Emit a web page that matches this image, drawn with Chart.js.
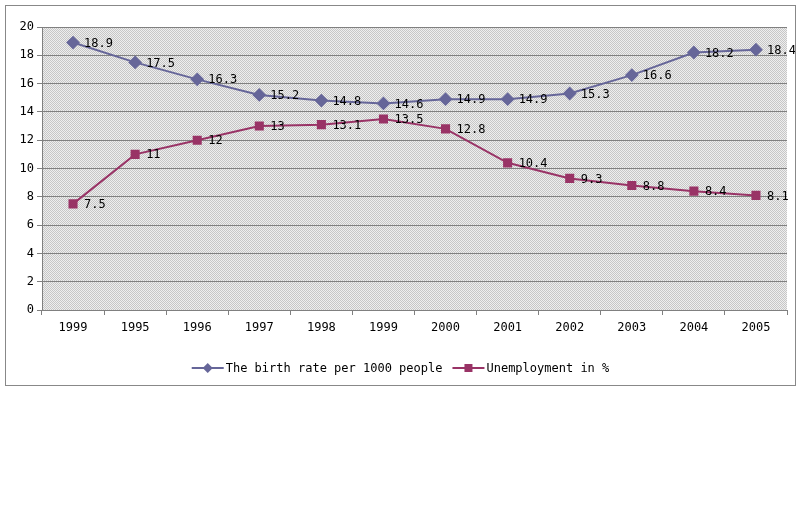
<!DOCTYPE html>
<html>
<head>
<meta charset="utf-8">
<script src="https://cdn.jsdelivr.net/npm/chart.js@4.4.1/dist/chart.umd.min.js"></script>
<style>
  html, body { margin:0; padding:0; background:#fff; }
  #box { position:absolute; left:5px; top:5px; width:789px; height:379px; border:1px solid #888; }
  #box canvas { display:block; }
</style>
</head>
<body>
<div id="box"><canvas id="c" width="789" height="379"></canvas></div>
<script>
const years = ['1999','1995','1996','1997','1998','1999','2000','2001','2002','2003','2004','2005']
const birthRate = [18.9, 17.5, 16.3, 15.2, 14.8, 14.6, 14.9, 14.9, 15.3, 16.6, 18.2, 18.4]
const unemployment = [7.5, 11, 12, 13, 13.1, 13.5, 12.8, 10.4, 9.3, 8.8, 8.4, 8.1]
const seriesNames = ['The birth rate per 1000 people', 'Unemployment in %']
const yTicks = [0, 2, 4, 6, 8, 10, 12, 14, 16, 18, 20]

const FONT = 'DejaVu Sans Mono'
const BLUE = '#666699'
const RED = '#993366'

// checker pattern like the old office plot area fill
function makePattern(ctx){
  const p = document.createElement('canvas')
  p.width = 2; p.height = 2
  const pc = p.getContext('2d')
  pc.fillStyle = '#eeeeee'; pc.fillRect(0,0,2,2)
  pc.fillStyle = '#c6c6c6'; pc.fillRect(0,0,1,1); pc.fillRect(1,1,1,1)
  return ctx.createPattern(p, 'repeat')
}

const areaBg = {
  id: 'areaBg',
  beforeDraw(chart){
    const {ctx, chartArea:a} = chart
    ctx.save()
    ctx.fillStyle = makePattern(ctx)
    ctx.fillRect(a.left, a.top, a.right-a.left, a.bottom-a.top)
    ctx.restore()
  }
}

const valueLabels = {
  id: 'valueLabels',
  afterDatasetsDraw(chart){
    const ctx = chart.ctx
    ctx.save()
    ctx.font = `12px "${FONT}"`
    ctx.fillStyle = '#000'
    ctx.textAlign = 'left'
    ctx.textBaseline = 'middle'
    chart.data.datasets.forEach((ds, i) => {
      chart.getDatasetMeta(i).data.forEach((pt, j) => {
        ctx.fillText(String(ds.data[j]), pt.x + 11, pt.y + 1)
      })
    })
    ctx.restore()
  }
}

// legend drawn by hand: line with marker in the middle, then text
const lineLegend = {
  id: 'lineLegend',
  afterDraw(chart){
    const ctx = chart.ctx
    ctx.save()
    ctx.font = `12px "${FONT}"`
    const seg = 32, gapText = 2, gapItem = 10
    const items = chart.data.datasets.map(ds => ({ds, w: ctx.measureText(ds.label).width}))
    const total = items.reduce((s, it) => s + seg + gapText + it.w, 0) + gapItem*(items.length-1)
    let x = chart.width/2 - total/2
    const y = 362
    for(const it of items){
      const col = it.ds.borderColor
      ctx.strokeStyle = col; ctx.lineWidth = 2
      ctx.beginPath(); ctx.moveTo(x, y); ctx.lineTo(x+seg, y); ctx.stroke()
      ctx.fillStyle = col
      const cx = x + seg/2
      if(it.ds.pointStyle === 'rect'){
        ctx.fillRect(cx-4, y-4, 8, 8)
      } else {
        ctx.beginPath(); ctx.moveTo(cx, y-5); ctx.lineTo(cx+5, y); ctx.lineTo(cx, y+5); ctx.lineTo(cx-5, y); ctx.closePath(); ctx.fill()
      }
      ctx.fillStyle = '#000'; ctx.textBaseline = 'middle'; ctx.textAlign = 'left'
      ctx.fillText(it.ds.label, x + seg + gapText, y + 1)
      x += seg + gapText + it.w + gapItem
    }
    ctx.restore()
  }
}

new Chart(document.getElementById('c'), {
  type: 'line',
  data: {
    labels: years,
    datasets: [
      {label: seriesNames[0], data: birthRate, borderColor: BLUE, backgroundColor: BLUE, borderWidth: 2,
       pointStyle: 'rectRot', pointRadius: 5.5, pointHoverRadius: 5.5, tension: 0},
      {label: seriesNames[1], data: unemployment, borderColor: RED, backgroundColor: RED, borderWidth: 2,
       pointStyle: 'rect', pointRadius: 5, pointHoverRadius: 5, tension: 0}
    ]
  },
  options: {
    responsive: false,
    animation: false,
    devicePixelRatio: 1,
    layout: { padding: { left: 0, top: 21, right: 8, bottom: 0 } },
    plugins: { legend: { display: false }, tooltip: { enabled: false } },
    scales: {
      x: {
        offset: true,
        grid: { offset: true, drawOnChartArea: false, drawTicks: true, tickLength: 5, color: '#808080' },
        border: { color: '#808080' },
        ticks: { color: '#000', font: { family: FONT, size: 12 }, padding: 6, maxRotation: 0, autoSkip: false },
        afterFit: s => { s.height = 75 }
      },
      y: {
        min: 0, max: 20,
        afterBuildTicks: s => { s.ticks = yTicks.map(v => ({value: v})) },
        grid: { color: '#808080', tickLength: 5 },
        border: { color: '#808080' },
        ticks: { color: '#000', font: { family: FONT, size: 12 }, padding: 3 },
        afterFit: s => { s.width = 36 }
      }
    }
  },
  plugins: [areaBg, valueLabels, lineLegend]
})
</script>
</body>
</html>
